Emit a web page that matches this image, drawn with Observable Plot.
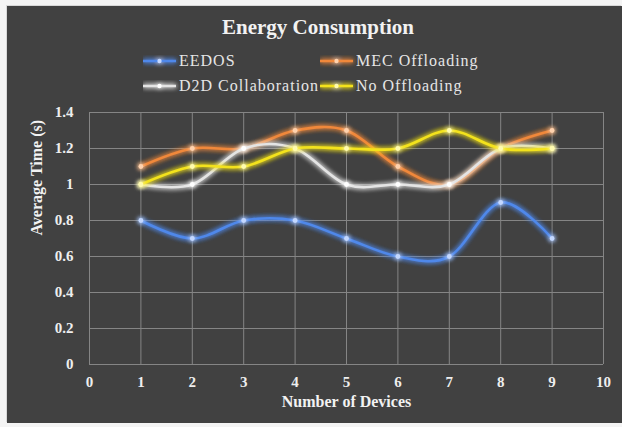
<!DOCTYPE html>
<html>
<head>
<meta charset="utf-8">
<script src="https://cdn.jsdelivr.net/npm/d3@7"></script>
<script src="https://cdn.jsdelivr.net/npm/@observablehq/plot@0.6"></script>
<style>
  html, body { margin: 0; padding: 0; background: #f4f4f4; }
  #chart { position: relative; width: 622px; height: 427px; overflow: hidden; font-family: "Liberation Serif", "Times New Roman", serif; }
  #panel { position: absolute; left: 7px; top: 6px; width: 615px; height: 417px; background: #414141; box-shadow: -1px -1px 0 #d8d8d8; }
  #title { position: absolute; left: 0; width: 636px; top: 17px; text-align: center; color: #f2f2f2; font-weight: bold; font-size: 21px; line-height: 21px; }
  .legend-item { position: absolute; display: flex; align-items: center; height: 20px; color: #e6e6e6; font-size: 16px; letter-spacing: 1px; line-height: 16px; white-space: nowrap; }
  .legend-item svg { margin-right: 3px; overflow: visible; }
  #plot { position: absolute; left: 0; top: 0; }
</style>
</head>
<body>
<div id="chart">
  <div id="panel"></div>
  <div id="plot"></div>
  <div id="title">Energy Consumption</div>
  <div id="legend"></div>
</div>
<script>
// Number of devices on the x axis
const devices = [1, 2, 3, 4, 5, 6, 7, 8, 9];

// Average time (s) for each approach
const eedos = [0.8, 0.7, 0.8, 0.8, 0.7, 0.6, 0.6, 0.9, 0.7];
const mecOffloading = [1.1, 1.2, 1.2, 1.3, 1.3, 1.1, 1.0, 1.2, 1.3];
const d2dCollaboration = [1.0, 1.0, 1.2, 1.2, 1.0, 1.0, 1.0, 1.2, 1.2];
const noOffloading = [1.0, 1.1, 1.1, 1.2, 1.2, 1.2, 1.3, 1.2, 1.2];

const seriesNames = ["EEDOS", "MEC Offloading", "D2D Collaboration", "No Offloading"];
const seriesValues = [eedos, mecOffloading, d2dCollaboration, noOffloading];
const lineColors = ["#4f88ea", "#f0883a", "#e4e4e4", "#f3e21c"];
const markerColors = ["#c4d8ff", "#ffd2ae", "#ffffff", "#fffbb0"];

const xTicks = [0, 1, 2, 3, 4, 5, 6, 7, 8, 9, 10];
const yTicks = [0, 0.2, 0.4, 0.6, 0.8, 1.0, 1.2, 1.4];

const series = seriesNames.map((name, k) => ({
  name,
  stroke: lineColors[k],
  marker: markerColors[k],
  rows: devices.map((d, i) => ({device: d, value: seriesValues[k][i]}))
}));

const gridColor = "#858585";

const marks = [
  Plot.gridX(xTicks, {stroke: gridColor, strokeOpacity: 1}),
  Plot.gridY(yTicks, {stroke: gridColor, strokeOpacity: 1}),
  Plot.axisX(xTicks, {tickSize: 0, tickPadding: 12, label: null, fill: "#eeeeee"}),
  Plot.axisY(yTicks, {tickSize: 0, tickPadding: 16, label: null, fill: "#eeeeee",
    tickFormat: d => String(+d.toFixed(1))}),
  Plot.text(["Number of Devices"], {frameAnchor: "bottom", text: d => d, dy: 42,
    fill: "#f2f2f2", fontSize: 16, fontWeight: "bold", letterSpacing: "1px"}),
  Plot.text(["Average Time (s)"], {frameAnchor: "left", text: d => d, dx: -53, dy: -3, rotate: -90,
    fill: "#f2f2f2", fontSize: 16, fontWeight: "bold"})
];

for (const s of series) {
  marks.push(Plot.line(s.rows, {x: "device", y: "value", stroke: s.stroke, strokeWidth: 2.6, curve: "cardinal"}));
  marks.push(Plot.dot(s.rows, {x: "device", y: "value", fill: s.marker, r: 2.4}));
}

const chart = Plot.plot({
  width: 622,
  height: 427,
  marginTop: 112,
  marginBottom: 63,
  marginLeft: 89,
  marginRight: 19,
  style: {background: "transparent", color: "#eeeeee", fontFamily: "'Liberation Serif', 'Times New Roman', serif", fontSize: "15px", fontWeight: "bold"},
  x: {domain: [0, 10]},
  y: {domain: [0, 1.4]},
  marks
});

// Soft glow around the data lines and markers
const svg = d3.select(chart);
const defs = svg.insert("defs", ":first-child");
const glow = defs.append("filter").attr("id", "glow")
  .attr("filterUnits", "userSpaceOnUse").attr("x", 0).attr("y", 0).attr("width", 622).attr("height", 427);
glow.append("feGaussianBlur").attr("in", "SourceGraphic").attr("stdDeviation", 2.6).attr("result", "blur");
const merge = glow.append("feMerge");
merge.append("feMergeNode").attr("in", "blur");
merge.append("feMergeNode").attr("in", "blur");
merge.append("feMergeNode").attr("in", "SourceGraphic");
svg.selectAll('g[aria-label="line"], g[aria-label="dot"]').attr("filter", "url(#glow)");

document.getElementById("plot").appendChild(chart);

// Legend: two columns, two rows
const legendPos = [[143, 51], [320, 51], [143, 76], [320, 76]];
const legend = d3.select("#legend");
series.forEach((s, k) => {
  const item = legend.append("div").attr("class", "legend-item")
    .style("left", legendPos[k][0] + "px").style("top", legendPos[k][1] + "px");
  const sw = item.append("svg").attr("width", 33).attr("height", 12);
  const g = sw.append("g").attr("filter", "url(#glow)");
  g.append("line").attr("x1", 0).attr("x2", 33).attr("y1", 6).attr("y2", 6)
    .attr("stroke", s.stroke).attr("stroke-width", 2.6);
  g.append("circle").attr("cx", 16.5).attr("cy", 6).attr("r", 2.2).attr("fill", s.marker);
  item.append("span").text(s.name);
});
</script>
</body>
</html>
